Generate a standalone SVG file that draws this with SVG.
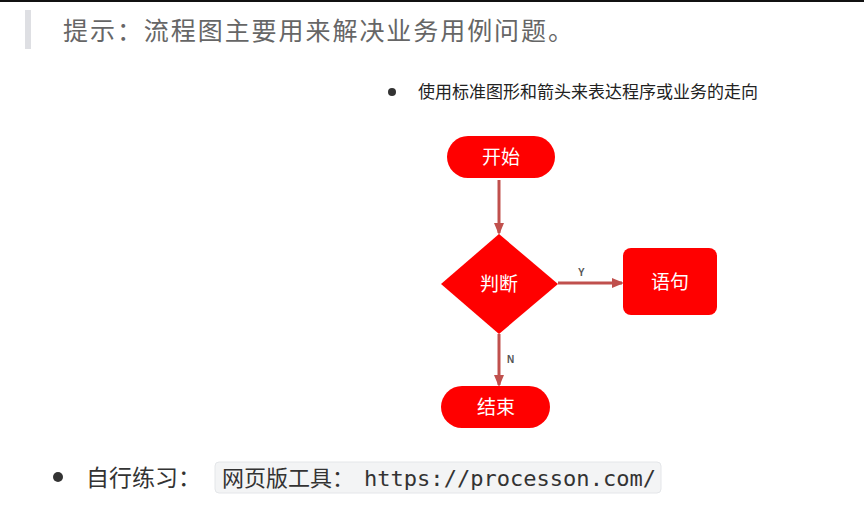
<svg xmlns="http://www.w3.org/2000/svg" width="864" height="508" viewBox="0 0 864 508">
<style>
.cjk{font-family:"Liberation Sans","Noto Sans CJK SC",sans-serif}
.node{fill:#ff0000}
.nt{fill:#fff;font-size:19px;text-anchor:middle;dominant-baseline:central}
.conn{stroke:#c0504d;stroke-width:3;fill:none}
.lbl{font-family:"Liberation Sans",sans-serif;font-size:10px;font-weight:bold;fill:#555}
</style>
<defs>
<marker id="ah" markerWidth="12" markerHeight="10" refX="10" refY="5" orient="auto" markerUnits="userSpaceOnUse">
<path d="M0,0 L12,5 L0,10 Z" fill="#c0504d"/>
</marker>
</defs>
<rect width="864" height="508" fill="#fff"/>
<rect x="0" y="0" width="864" height="2" fill="#111"/>
<rect x="25" y="10" width="6" height="39" fill="#dedfe3"/>
<text class="cjk" x="63" y="40" font-size="25" fill="#666" textLength="510" lengthAdjust="spacing">提示：流程图主要用来解决业务用例问题。</text>
<circle cx="392" cy="92" r="4" fill="#333"/>
<text class="cjk" x="418" y="98" font-size="17" fill="#222">使用标准图形和箭头来表达程序或业务的走向</text>
<g id="connectors">
<line class="conn" x1="499" y1="180" x2="499" y2="233" marker-end="url(#ah)"/>
<line class="conn" x1="558" y1="283" x2="622" y2="283" marker-end="url(#ah)"/>
<line class="conn" x1="499" y1="334" x2="499" y2="385" marker-end="url(#ah)"/>
<text class="lbl" x="578" y="276">Y</text>
<text class="lbl" x="507" y="363">N</text>
</g>
<g id="start">
<rect class="node" x="447" y="136" width="108" height="42" rx="21"/>
<text class="cjk nt" x="501" y="157">开始</text>
</g>
<g id="decision">
<polygon class="node" points="499,234 558,284 499,334 441,284"/>
<text class="cjk nt" x="499" y="284">判断</text>
</g>
<g id="statement">
<rect class="node" x="623" y="248" width="94" height="67" rx="8"/>
<text class="cjk nt" x="670" y="282">语句</text>
</g>
<g id="end">
<rect class="node" x="441" y="386" width="109" height="42" rx="21"/>
<text class="cjk nt" x="496" y="407">结束</text>
</g>
<circle cx="58" cy="477" r="5" fill="#333"/>
<text class="cjk" x="86" y="486" font-size="23" fill="#333">自行练习：</text>
<rect x="215" y="462" width="446" height="31" rx="4" fill="#f3f4f5" stroke="#e4e6e9"/>
<text y="486" font-size="22" fill="#333"><tspan class="cjk" x="222">网页版工具：</tspan><tspan x="364" font-family="'DejaVu Sans Mono','Liberation Mono',monospace" textLength="292" lengthAdjust="spacingAndGlyphs">https://processon.com/</tspan></text>
</svg>
